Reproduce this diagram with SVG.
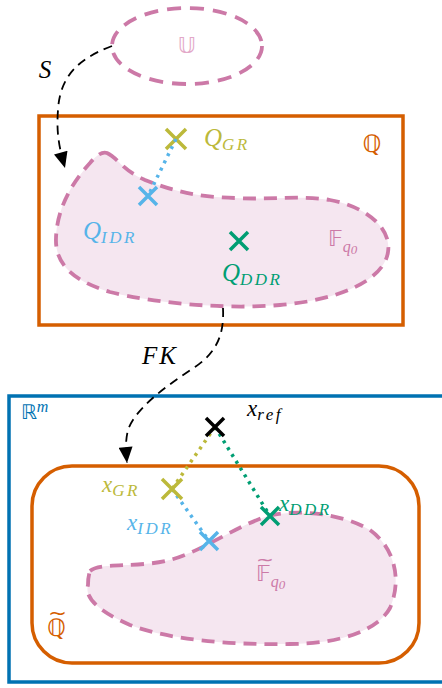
<svg xmlns="http://www.w3.org/2000/svg" width="442" height="688" viewBox="0 0 442 688">
<style>
.math{font-family:"Liberation Serif","DejaVu Serif",serif;font-style:italic}
.sub{font-size:17px;letter-spacing:2.5px}
.bb{font-family:"DejaVu Sans","Noto Sans",sans-serif;font-style:normal}
.tl{font-family:"DejaVu Sans",sans-serif;font-style:normal}
.blob{fill:#f5e6f0;stroke:#cc79a7;stroke-width:3.8;stroke-dasharray:13 8}
.conn{fill:none;stroke:#000;stroke-width:1.8;stroke-dasharray:9 6}
.dot{fill:none;stroke-width:3.5;stroke-dasharray:3 5}
.cross{stroke-width:3.5;fill:none}
</style>
<defs>
<marker id="arr" viewBox="0 0 16 14" refX="16" refY="7" markerWidth="17" markerHeight="14" orient="auto" markerUnits="userSpaceOnUse">
<path d="M0,0 L16,7 L0,14 z" fill="#000"/>
</marker>
</defs>

<g id="U">
<ellipse cx="187" cy="46" rx="75" ry="38" fill="none" stroke="#cc79a7" stroke-width="3.8" stroke-dasharray="14 9"/>
<text x="187" y="53" text-anchor="middle" font-size="22" fill="#e3a8c8" class="bb">𝕌</text>
</g>

<g id="Q">
<rect x="39" y="116" width="364" height="209" fill="none" stroke="#d55e00" stroke-width="3.5"/>
<path class="blob" d="M107,153 C118,158 122,170 145,180 C175,192 200,197 235,198 C270,200 300,195 330,200 C365,206 392,228 388,252 C384,280 340,300 280,305 C220,310 150,302 110,292 C70,280 55,262 56,238 C57,210 70,185 90,163 C96,156 102,151 107,153 Z"/>
<text x="372" y="152" font-size="24" fill="#d55e00" class="bb" text-anchor="middle">ℚ</text>
<text x="328" y="246" font-size="22" fill="#cc79a7" class="bb">𝔽<tspan class="math" font-size="16" dy="6">q</tspan><tspan class="math" font-size="13" dy="2" font-style="normal">0</tspan></text>
</g>

<g id="QGR">
<path class="cross" stroke="#bcb93a" d="M166,129 L186,149 M186,129 L166,149"/>
<text x="204" y="146" class="math" font-size="25" fill="#bcb93a">Q<tspan class="sub" dy="4">GR</tspan></text>
</g>
<g id="QIDR">
<path class="cross" stroke="#56b4e9" d="M139,187 L157,205 M157,187 L139,205"/>
<text x="83" y="239" class="math" font-size="25" fill="#56b4e9">Q<tspan class="sub" dy="4">IDR</tspan></text>
</g>
<g id="QDDR">
<path class="cross" stroke="#009e73" d="M230,232 L248,250 M248,232 L230,250"/>
<text x="222" y="281" class="math" font-size="25" fill="#009e73">Q<tspan class="sub" dy="4">DDR</tspan></text>
</g>

<g id="Rm">
<rect x="9" y="396" width="440" height="286" fill="none" stroke="#0072b2" stroke-width="3.5"/>
<text x="21" y="419" font-size="20" fill="#0072b2" class="bb">ℝ<tspan class="math" font-size="16" dy="-7">m</tspan></text>
</g>

<g id="Qtilde">
<rect x="32" y="466" width="387" height="197" rx="40" ry="40" fill="none" stroke="#d55e00" stroke-width="3.5"/>
<path class="blob" d="M90,571 C100,562 140,568 170,560 C200,552 230,530 262,518 C290,508 340,512 370,530 C395,548 402,580 390,608 C378,630 340,644 290,644 C230,645 170,640 130,625 C100,612 84,598 88,585 C88,578 89,574 90,571 Z"/>
<text font-size="24" fill="#d55e00" class="bb"><tspan x="47" y="636">ℚ</tspan><tspan class="tl" x="48" y="620" font-size="20" textLength="19" lengthAdjust="spacingAndGlyphs">~</tspan></text>
<text font-size="22" fill="#cc79a7" class="bb"><tspan x="256" y="581">𝔽</tspan><tspan class="math" font-size="16" dy="6">q</tspan><tspan class="math" font-size="13" dy="2" font-style="normal">0</tspan><tspan class="tl" x="256" y="566" font-size="18" textLength="18" lengthAdjust="spacingAndGlyphs">~</tspan></text>
</g>

<g id="connectors">
<path class="conn" d="M112,46 C80,58 60,75 58,110 C56,135 60,150 65,168" marker-end="url(#arr)"/>
<path class="conn" d="M223,308 C224,330 220,350 195,367 C160,390 135,410 128,430 C125,442 126,452 127,463" marker-end="url(#arr)"/>
<path class="dot" stroke="#56b4e9" d="M176,139 L148,196"/>
<path class="dot" stroke="#bcb93a" d="M215,427 L172,489"/>
<path class="dot" stroke="#009e73" d="M215,427 L270,516"/>
<path class="dot" stroke="#56b4e9" d="M172,489 L209,541"/>
<text x="45" y="78" class="math" font-size="25" fill="#000" text-anchor="middle">S</text>
<text x="160" y="364" class="math" font-size="25" fill="#000" text-anchor="middle" letter-spacing="2">FK</text>
</g>

<g id="xref">
<path class="cross" stroke="#000" d="M206,418 L224,436 M224,418 L206,436"/>
<text x="247" y="416" class="math" font-size="23" fill="#000">x<tspan class="sub" dy="4">ref</tspan></text>
</g>
<g id="xGR">
<path class="cross" stroke="#bcb93a" d="M162,479 L182,499 M182,479 L162,499"/>
<text x="102" y="492" class="math" font-size="23" fill="#bcb93a">x<tspan class="sub" dy="4">GR</tspan></text>
</g>
<g id="xIDR">
<path class="cross" stroke="#56b4e9" d="M200,532 L218,550 M218,532 L200,550"/>
<text x="127" y="530" class="math" font-size="23" fill="#56b4e9">x<tspan class="sub" dy="4">IDR</tspan></text>
</g>
<g id="xDDR">
<path class="cross" stroke="#009e73" d="M261,507 L279,525 M279,507 L261,525"/>
<text x="279" y="511" class="math" font-size="23" fill="#009e73">x<tspan class="sub" dy="4">DDR</tspan></text>
</g>
</svg>
